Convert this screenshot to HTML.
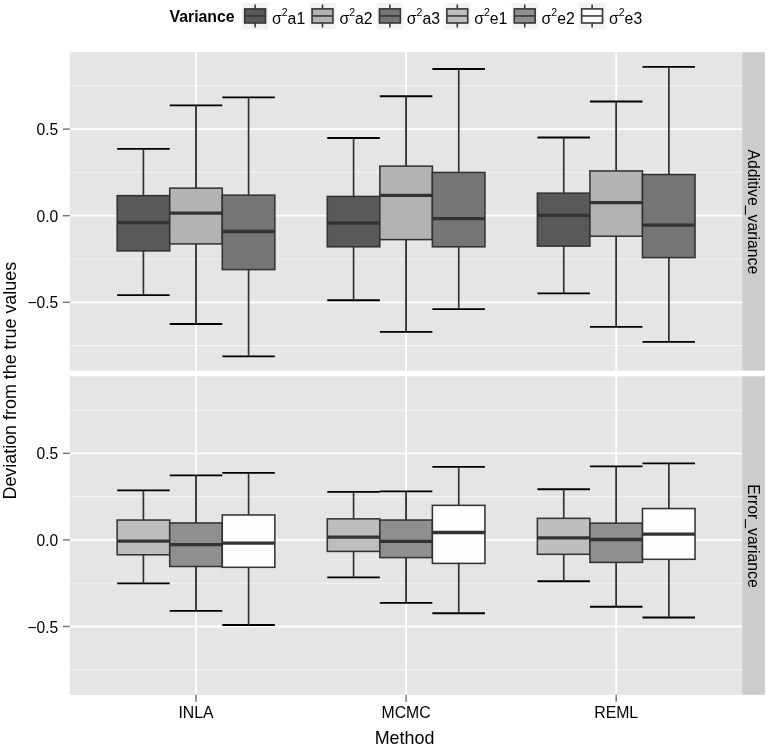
<!DOCTYPE html>
<html lang="en">
<head>
<meta charset="utf-8">
<title>Deviation from the true values by Method</title>
<style>
html,body{margin:0;padding:0;background:#ffffff;}
body{width:767px;height:749px;overflow:hidden;font-family:"Liberation Sans", Arial, Helvetica, sans-serif;}
svg{display:block;}
</style>
</head>
<body>
<svg width="767" height="749" viewBox="0 0 767 749" font-family='"Liberation Sans", Arial, Helvetica, sans-serif'>
<rect x="0" y="0" width="767" height="749" fill="#ffffff"/>
<rect x="69.8" y="52.2" width="672.4000000000001" height="318.5" fill="#e5e5e5"/>
<rect x="742.2" y="52.2" width="22.699999999999932" height="318.5" fill="#cccccc"/>
<line x1="69.8" x2="742.2" y1="85.80" y2="85.80" stroke="#f2f2f2" stroke-width="1.1"/>
<line x1="69.8" x2="742.2" y1="172.40" y2="172.40" stroke="#f2f2f2" stroke-width="1.1"/>
<line x1="69.8" x2="742.2" y1="259.00" y2="259.00" stroke="#f2f2f2" stroke-width="1.1"/>
<line x1="69.8" x2="742.2" y1="345.60" y2="345.60" stroke="#f2f2f2" stroke-width="1.1"/>
<line x1="69.8" x2="742.2" y1="129.10" y2="129.10" stroke="#ffffff" stroke-width="1.8"/>
<line x1="69.8" x2="742.2" y1="215.70" y2="215.70" stroke="#ffffff" stroke-width="1.8"/>
<line x1="69.8" x2="742.2" y1="302.30" y2="302.30" stroke="#ffffff" stroke-width="1.8"/>
<line x1="196.0" x2="196.0" y1="52.2" y2="370.7" stroke="#ffffff" stroke-width="1.8"/>
<line x1="406.1" x2="406.1" y1="52.2" y2="370.7" stroke="#ffffff" stroke-width="1.8"/>
<line x1="616.2" x2="616.2" y1="52.2" y2="370.7" stroke="#ffffff" stroke-width="1.8"/>
<path d="M143.45 148.90V295.10" fill="none" stroke="#000000" stroke-width="1.2"/>
<path d="M117.17 148.90H169.72M117.17 295.10H169.72" fill="none" stroke="#000000" stroke-width="1.85"/>
<path d="M196.00 105.30V324.00" fill="none" stroke="#000000" stroke-width="1.2"/>
<path d="M169.72 105.30H222.28M169.72 324.00H222.28" fill="none" stroke="#000000" stroke-width="1.85"/>
<path d="M248.55 97.30V356.40" fill="none" stroke="#000000" stroke-width="1.2"/>
<path d="M222.28 97.30H274.82M222.28 356.40H274.82" fill="none" stroke="#000000" stroke-width="1.85"/>
<path d="M353.55 138.00V300.20" fill="none" stroke="#000000" stroke-width="1.2"/>
<path d="M327.28 138.00H379.82M327.28 300.20H379.82" fill="none" stroke="#000000" stroke-width="1.85"/>
<path d="M406.10 96.20V331.90" fill="none" stroke="#000000" stroke-width="1.2"/>
<path d="M379.83 96.20H432.38M379.83 331.90H432.38" fill="none" stroke="#000000" stroke-width="1.85"/>
<path d="M458.65 69.00V309.10" fill="none" stroke="#000000" stroke-width="1.2"/>
<path d="M432.38 69.00H484.93M432.38 309.10H484.93" fill="none" stroke="#000000" stroke-width="1.85"/>
<path d="M563.65 137.50V293.40" fill="none" stroke="#000000" stroke-width="1.2"/>
<path d="M537.38 137.50H589.93M537.38 293.40H589.93" fill="none" stroke="#000000" stroke-width="1.85"/>
<path d="M616.20 101.50V326.90" fill="none" stroke="#000000" stroke-width="1.2"/>
<path d="M589.93 101.50H642.48M589.93 326.90H642.48" fill="none" stroke="#000000" stroke-width="1.85"/>
<path d="M668.75 66.80V341.80" fill="none" stroke="#000000" stroke-width="1.2"/>
<path d="M642.48 66.80H695.02M642.48 341.80H695.02" fill="none" stroke="#000000" stroke-width="1.85"/>
<path d="M143.45 148.90V195.65M143.45 250.90V295.10" fill="none" stroke="#333333" stroke-width="1.5"/>
<rect x="117.17" y="195.65" width="52.55" height="55.25" fill="#595959" stroke="#333333" stroke-width="1.55" stroke-linejoin="miter"/>
<line x1="117.17" x2="169.72" y1="222.65" y2="222.65" stroke="#333333" stroke-width="3.3"/>
<path d="M196.00 105.30V188.15M196.00 243.90V324.00" fill="none" stroke="#333333" stroke-width="1.5"/>
<rect x="169.72" y="188.15" width="52.55" height="55.75" fill="#b3b3b3" stroke="#333333" stroke-width="1.55" stroke-linejoin="miter"/>
<line x1="169.72" x2="222.28" y1="213.10" y2="213.10" stroke="#333333" stroke-width="3.3"/>
<path d="M248.55 97.30V195.15M248.55 269.60V356.40" fill="none" stroke="#333333" stroke-width="1.5"/>
<rect x="222.28" y="195.15" width="52.55" height="74.45" fill="#757575" stroke="#333333" stroke-width="1.55" stroke-linejoin="miter"/>
<line x1="222.28" x2="274.82" y1="231.50" y2="231.50" stroke="#333333" stroke-width="3.3"/>
<path d="M353.55 138.00V196.45M353.55 246.80V300.20" fill="none" stroke="#333333" stroke-width="1.5"/>
<rect x="327.28" y="196.45" width="52.55" height="50.35" fill="#595959" stroke="#333333" stroke-width="1.55" stroke-linejoin="miter"/>
<line x1="327.28" x2="379.82" y1="223.00" y2="223.00" stroke="#333333" stroke-width="3.3"/>
<path d="M406.10 96.20V166.15M406.10 239.60V331.90" fill="none" stroke="#333333" stroke-width="1.5"/>
<rect x="379.83" y="166.15" width="52.55" height="73.45" fill="#b3b3b3" stroke="#333333" stroke-width="1.55" stroke-linejoin="miter"/>
<line x1="379.83" x2="432.38" y1="195.40" y2="195.40" stroke="#333333" stroke-width="3.3"/>
<path d="M458.65 69.00V172.45M458.65 246.80V309.10" fill="none" stroke="#333333" stroke-width="1.5"/>
<rect x="432.38" y="172.45" width="52.55" height="74.35" fill="#757575" stroke="#333333" stroke-width="1.55" stroke-linejoin="miter"/>
<line x1="432.38" x2="484.93" y1="218.70" y2="218.70" stroke="#333333" stroke-width="3.3"/>
<path d="M563.65 137.50V193.15M563.65 246.10V293.40" fill="none" stroke="#333333" stroke-width="1.5"/>
<rect x="537.38" y="193.15" width="52.55" height="52.95" fill="#595959" stroke="#333333" stroke-width="1.55" stroke-linejoin="miter"/>
<line x1="537.38" x2="589.93" y1="215.40" y2="215.40" stroke="#333333" stroke-width="3.3"/>
<path d="M616.20 101.50V170.95M616.20 236.20V326.90" fill="none" stroke="#333333" stroke-width="1.5"/>
<rect x="589.93" y="170.95" width="52.55" height="65.25" fill="#b3b3b3" stroke="#333333" stroke-width="1.55" stroke-linejoin="miter"/>
<line x1="589.93" x2="642.48" y1="202.60" y2="202.60" stroke="#333333" stroke-width="3.3"/>
<path d="M668.75 66.80V174.55M668.75 257.60V341.80" fill="none" stroke="#333333" stroke-width="1.5"/>
<rect x="642.48" y="174.55" width="52.55" height="83.05" fill="#757575" stroke="#333333" stroke-width="1.55" stroke-linejoin="miter"/>
<line x1="642.48" x2="695.02" y1="225.20" y2="225.20" stroke="#333333" stroke-width="3.3"/>
<line x1="62.8" x2="69.8" y1="129.10" y2="129.10" stroke="#7a7a7a" stroke-width="1.5"/>
<text x="58.3" y="135.10" font-size="15.6" text-anchor="end" fill="#000000">0.5</text>
<line x1="62.8" x2="69.8" y1="215.70" y2="215.70" stroke="#7a7a7a" stroke-width="1.5"/>
<text x="58.3" y="221.70" font-size="15.6" text-anchor="end" fill="#000000">0.0</text>
<line x1="62.8" x2="69.8" y1="302.30" y2="302.30" stroke="#7a7a7a" stroke-width="1.5"/>
<text x="58.3" y="308.30" font-size="15.6" text-anchor="end" fill="#000000">−0.5</text>
<text transform="translate(747.7,211.85) rotate(90)" font-size="15.8" text-anchor="middle" fill="#000000">Additive_variance</text>
<rect x="69.8" y="376.3" width="672.4000000000001" height="318.49999999999994" fill="#e5e5e5"/>
<rect x="742.2" y="376.3" width="22.699999999999932" height="318.49999999999994" fill="#cccccc"/>
<line x1="69.8" x2="742.2" y1="410.00" y2="410.00" stroke="#f2f2f2" stroke-width="1.1"/>
<line x1="69.8" x2="742.2" y1="496.60" y2="496.60" stroke="#f2f2f2" stroke-width="1.1"/>
<line x1="69.8" x2="742.2" y1="583.20" y2="583.20" stroke="#f2f2f2" stroke-width="1.1"/>
<line x1="69.8" x2="742.2" y1="669.80" y2="669.80" stroke="#f2f2f2" stroke-width="1.1"/>
<line x1="69.8" x2="742.2" y1="453.30" y2="453.30" stroke="#ffffff" stroke-width="1.8"/>
<line x1="69.8" x2="742.2" y1="539.90" y2="539.90" stroke="#ffffff" stroke-width="1.8"/>
<line x1="69.8" x2="742.2" y1="626.50" y2="626.50" stroke="#ffffff" stroke-width="1.8"/>
<line x1="196.0" x2="196.0" y1="376.3" y2="694.8" stroke="#ffffff" stroke-width="1.8"/>
<line x1="406.1" x2="406.1" y1="376.3" y2="694.8" stroke="#ffffff" stroke-width="1.8"/>
<line x1="616.2" x2="616.2" y1="376.3" y2="694.8" stroke="#ffffff" stroke-width="1.8"/>
<path d="M143.45 490.40V583.40" fill="none" stroke="#000000" stroke-width="1.2"/>
<path d="M117.17 490.40H169.72M117.17 583.40H169.72" fill="none" stroke="#000000" stroke-width="1.85"/>
<path d="M196.00 475.30V610.80" fill="none" stroke="#000000" stroke-width="1.2"/>
<path d="M169.72 475.30H222.28M169.72 610.80H222.28" fill="none" stroke="#000000" stroke-width="1.85"/>
<path d="M248.55 472.90V625.00" fill="none" stroke="#000000" stroke-width="1.2"/>
<path d="M222.28 472.90H274.82M222.28 625.00H274.82" fill="none" stroke="#000000" stroke-width="1.85"/>
<path d="M353.55 491.90V577.40" fill="none" stroke="#000000" stroke-width="1.2"/>
<path d="M327.28 491.90H379.82M327.28 577.40H379.82" fill="none" stroke="#000000" stroke-width="1.85"/>
<path d="M406.10 491.40V602.90" fill="none" stroke="#000000" stroke-width="1.2"/>
<path d="M379.83 491.40H432.38M379.83 602.90H432.38" fill="none" stroke="#000000" stroke-width="1.85"/>
<path d="M458.65 466.90V613.20" fill="none" stroke="#000000" stroke-width="1.2"/>
<path d="M432.38 466.90H484.93M432.38 613.20H484.93" fill="none" stroke="#000000" stroke-width="1.85"/>
<path d="M563.65 489.20V581.20" fill="none" stroke="#000000" stroke-width="1.2"/>
<path d="M537.38 489.20H589.93M537.38 581.20H589.93" fill="none" stroke="#000000" stroke-width="1.85"/>
<path d="M616.20 466.40V606.70" fill="none" stroke="#000000" stroke-width="1.2"/>
<path d="M589.93 466.40H642.48M589.93 606.70H642.48" fill="none" stroke="#000000" stroke-width="1.85"/>
<path d="M668.75 463.30V617.50" fill="none" stroke="#000000" stroke-width="1.2"/>
<path d="M642.48 463.30H695.02M642.48 617.50H695.02" fill="none" stroke="#000000" stroke-width="1.85"/>
<path d="M143.45 490.40V520.05M143.45 554.80V583.40" fill="none" stroke="#333333" stroke-width="1.5"/>
<rect x="117.17" y="520.05" width="52.55" height="34.75" fill="#bebebe" stroke="#333333" stroke-width="1.55" stroke-linejoin="miter"/>
<line x1="117.17" x2="169.72" y1="541.20" y2="541.20" stroke="#333333" stroke-width="3.3"/>
<path d="M196.00 475.30V522.95M196.00 566.50V610.80" fill="none" stroke="#333333" stroke-width="1.5"/>
<rect x="169.72" y="522.95" width="52.55" height="43.55" fill="#8f8f8f" stroke="#333333" stroke-width="1.55" stroke-linejoin="miter"/>
<line x1="169.72" x2="222.28" y1="544.60" y2="544.60" stroke="#333333" stroke-width="3.3"/>
<path d="M248.55 472.90V514.95M248.55 567.30V625.00" fill="none" stroke="#333333" stroke-width="1.5"/>
<rect x="222.28" y="514.95" width="52.55" height="52.35" fill="#fdfdfd" stroke="#333333" stroke-width="1.55" stroke-linejoin="miter"/>
<line x1="222.28" x2="274.82" y1="543.10" y2="543.10" stroke="#333333" stroke-width="3.3"/>
<path d="M353.55 491.90V518.85M353.55 551.40V577.40" fill="none" stroke="#333333" stroke-width="1.5"/>
<rect x="327.28" y="518.85" width="52.55" height="32.55" fill="#bebebe" stroke="#333333" stroke-width="1.55" stroke-linejoin="miter"/>
<line x1="327.28" x2="379.82" y1="537.10" y2="537.10" stroke="#333333" stroke-width="3.3"/>
<path d="M406.10 491.40V520.05M406.10 557.60V602.90" fill="none" stroke="#333333" stroke-width="1.5"/>
<rect x="379.83" y="520.05" width="52.55" height="37.55" fill="#8f8f8f" stroke="#333333" stroke-width="1.55" stroke-linejoin="miter"/>
<line x1="379.83" x2="432.38" y1="541.40" y2="541.40" stroke="#333333" stroke-width="3.3"/>
<path d="M458.65 466.90V505.35M458.65 563.40V613.20" fill="none" stroke="#333333" stroke-width="1.5"/>
<rect x="432.38" y="505.35" width="52.55" height="58.05" fill="#fdfdfd" stroke="#333333" stroke-width="1.55" stroke-linejoin="miter"/>
<line x1="432.38" x2="484.93" y1="532.50" y2="532.50" stroke="#333333" stroke-width="3.3"/>
<path d="M563.65 489.20V518.35M563.65 554.30V581.20" fill="none" stroke="#333333" stroke-width="1.5"/>
<rect x="537.38" y="518.35" width="52.55" height="35.95" fill="#bebebe" stroke="#333333" stroke-width="1.55" stroke-linejoin="miter"/>
<line x1="537.38" x2="589.93" y1="537.80" y2="537.80" stroke="#333333" stroke-width="3.3"/>
<path d="M616.20 466.40V523.15M616.20 562.40V606.70" fill="none" stroke="#333333" stroke-width="1.5"/>
<rect x="589.93" y="523.15" width="52.55" height="39.25" fill="#8f8f8f" stroke="#333333" stroke-width="1.55" stroke-linejoin="miter"/>
<line x1="589.93" x2="642.48" y1="539.50" y2="539.50" stroke="#333333" stroke-width="3.3"/>
<path d="M668.75 463.30V508.55M668.75 559.30V617.50" fill="none" stroke="#333333" stroke-width="1.5"/>
<rect x="642.48" y="508.55" width="52.55" height="50.75" fill="#fdfdfd" stroke="#333333" stroke-width="1.55" stroke-linejoin="miter"/>
<line x1="642.48" x2="695.02" y1="534.20" y2="534.20" stroke="#333333" stroke-width="3.3"/>
<line x1="62.8" x2="69.8" y1="453.30" y2="453.30" stroke="#7a7a7a" stroke-width="1.5"/>
<text x="58.3" y="459.30" font-size="15.6" text-anchor="end" fill="#000000">0.5</text>
<line x1="62.8" x2="69.8" y1="539.90" y2="539.90" stroke="#7a7a7a" stroke-width="1.5"/>
<text x="58.3" y="545.90" font-size="15.6" text-anchor="end" fill="#000000">0.0</text>
<line x1="62.8" x2="69.8" y1="626.50" y2="626.50" stroke="#7a7a7a" stroke-width="1.5"/>
<text x="58.3" y="632.50" font-size="15.6" text-anchor="end" fill="#000000">−0.5</text>
<text transform="translate(747.7,535.9499999999999) rotate(90)" font-size="15.8" text-anchor="middle" fill="#000000">Error_variance</text>
<line x1="196.0" x2="196.0" y1="694.8" y2="701.8" stroke="#7a7a7a" stroke-width="1.5"/>
<text x="196.0" y="717.5" font-size="15.8" text-anchor="middle" fill="#000000">INLA</text>
<line x1="406.1" x2="406.1" y1="694.8" y2="701.8" stroke="#7a7a7a" stroke-width="1.5"/>
<text x="406.1" y="717.5" font-size="15.8" text-anchor="middle" fill="#000000">MCMC</text>
<line x1="616.2" x2="616.2" y1="694.8" y2="701.8" stroke="#7a7a7a" stroke-width="1.5"/>
<text x="616.2" y="717.5" font-size="15.8" text-anchor="middle" fill="#000000">REML</text>
<text x="404.5" y="743.5" font-size="17.9" text-anchor="middle" fill="#000000">Method</text>
<text transform="translate(15.7,380.7) rotate(-90)" font-size="17.9" text-anchor="middle" fill="#000000">Deviation from the true values</text>
<text x="169.6" y="22" font-size="15.8" font-weight="bold" fill="#000000">Variance</text>
<rect x="242.05" y="3.1" width="26.1" height="26.1" fill="#f2f2f2"/>
<path d="M255.10 4.4V8.9M255.10 23.0V27.6" stroke="#333333" stroke-width="1.55" fill="none"/>
<rect x="244.65" y="8.9" width="20.9" height="14.1" fill="#595959" stroke="#333333" stroke-width="1.55"/>
<line x1="244.65" x2="265.55" y1="15.95" y2="15.95" stroke="#333333" stroke-width="1.55"/>
<text x="272.00" y="24.0" font-size="15.8" fill="#000000">σ<tspan dy="-7.6" font-size="10.5">2</tspan><tspan dy="7.6">a1</tspan></text>
<rect x="309.45" y="3.1" width="26.1" height="26.1" fill="#f2f2f2"/>
<path d="M322.50 4.4V8.9M322.50 23.0V27.6" stroke="#333333" stroke-width="1.55" fill="none"/>
<rect x="312.05" y="8.9" width="20.9" height="14.1" fill="#b3b3b3" stroke="#333333" stroke-width="1.55"/>
<line x1="312.05" x2="332.95" y1="15.95" y2="15.95" stroke="#333333" stroke-width="1.55"/>
<text x="339.40" y="24.0" font-size="15.8" fill="#000000">σ<tspan dy="-7.6" font-size="10.5">2</tspan><tspan dy="7.6">a2</tspan></text>
<rect x="376.85" y="3.1" width="26.1" height="26.1" fill="#f2f2f2"/>
<path d="M389.90 4.4V8.9M389.90 23.0V27.6" stroke="#333333" stroke-width="1.55" fill="none"/>
<rect x="379.45" y="8.9" width="20.9" height="14.1" fill="#757575" stroke="#333333" stroke-width="1.55"/>
<line x1="379.45" x2="400.35" y1="15.95" y2="15.95" stroke="#333333" stroke-width="1.55"/>
<text x="406.80" y="24.0" font-size="15.8" fill="#000000">σ<tspan dy="-7.6" font-size="10.5">2</tspan><tspan dy="7.6">a3</tspan></text>
<rect x="444.25" y="3.1" width="26.1" height="26.1" fill="#f2f2f2"/>
<path d="M457.30 4.4V8.9M457.30 23.0V27.6" stroke="#333333" stroke-width="1.55" fill="none"/>
<rect x="446.85" y="8.9" width="20.9" height="14.1" fill="#bebebe" stroke="#333333" stroke-width="1.55"/>
<line x1="446.85" x2="467.75" y1="15.95" y2="15.95" stroke="#333333" stroke-width="1.55"/>
<text x="474.20" y="24.0" font-size="15.8" fill="#000000">σ<tspan dy="-7.6" font-size="10.5">2</tspan><tspan dy="7.6">e1</tspan></text>
<rect x="511.65" y="3.1" width="26.1" height="26.1" fill="#f2f2f2"/>
<path d="M524.70 4.4V8.9M524.70 23.0V27.6" stroke="#333333" stroke-width="1.55" fill="none"/>
<rect x="514.25" y="8.9" width="20.9" height="14.1" fill="#8f8f8f" stroke="#333333" stroke-width="1.55"/>
<line x1="514.25" x2="535.15" y1="15.95" y2="15.95" stroke="#333333" stroke-width="1.55"/>
<text x="541.60" y="24.0" font-size="15.8" fill="#000000">σ<tspan dy="-7.6" font-size="10.5">2</tspan><tspan dy="7.6">e2</tspan></text>
<rect x="579.05" y="3.1" width="26.1" height="26.1" fill="#f2f2f2"/>
<path d="M592.10 4.4V8.9M592.10 23.0V27.6" stroke="#333333" stroke-width="1.55" fill="none"/>
<rect x="581.65" y="8.9" width="20.9" height="14.1" fill="#fdfdfd" stroke="#333333" stroke-width="1.55"/>
<line x1="581.65" x2="602.55" y1="15.95" y2="15.95" stroke="#333333" stroke-width="1.55"/>
<text x="609.00" y="24.0" font-size="15.8" fill="#000000">σ<tspan dy="-7.6" font-size="10.5">2</tspan><tspan dy="7.6">e3</tspan></text>
</svg>
</body>
</html>
